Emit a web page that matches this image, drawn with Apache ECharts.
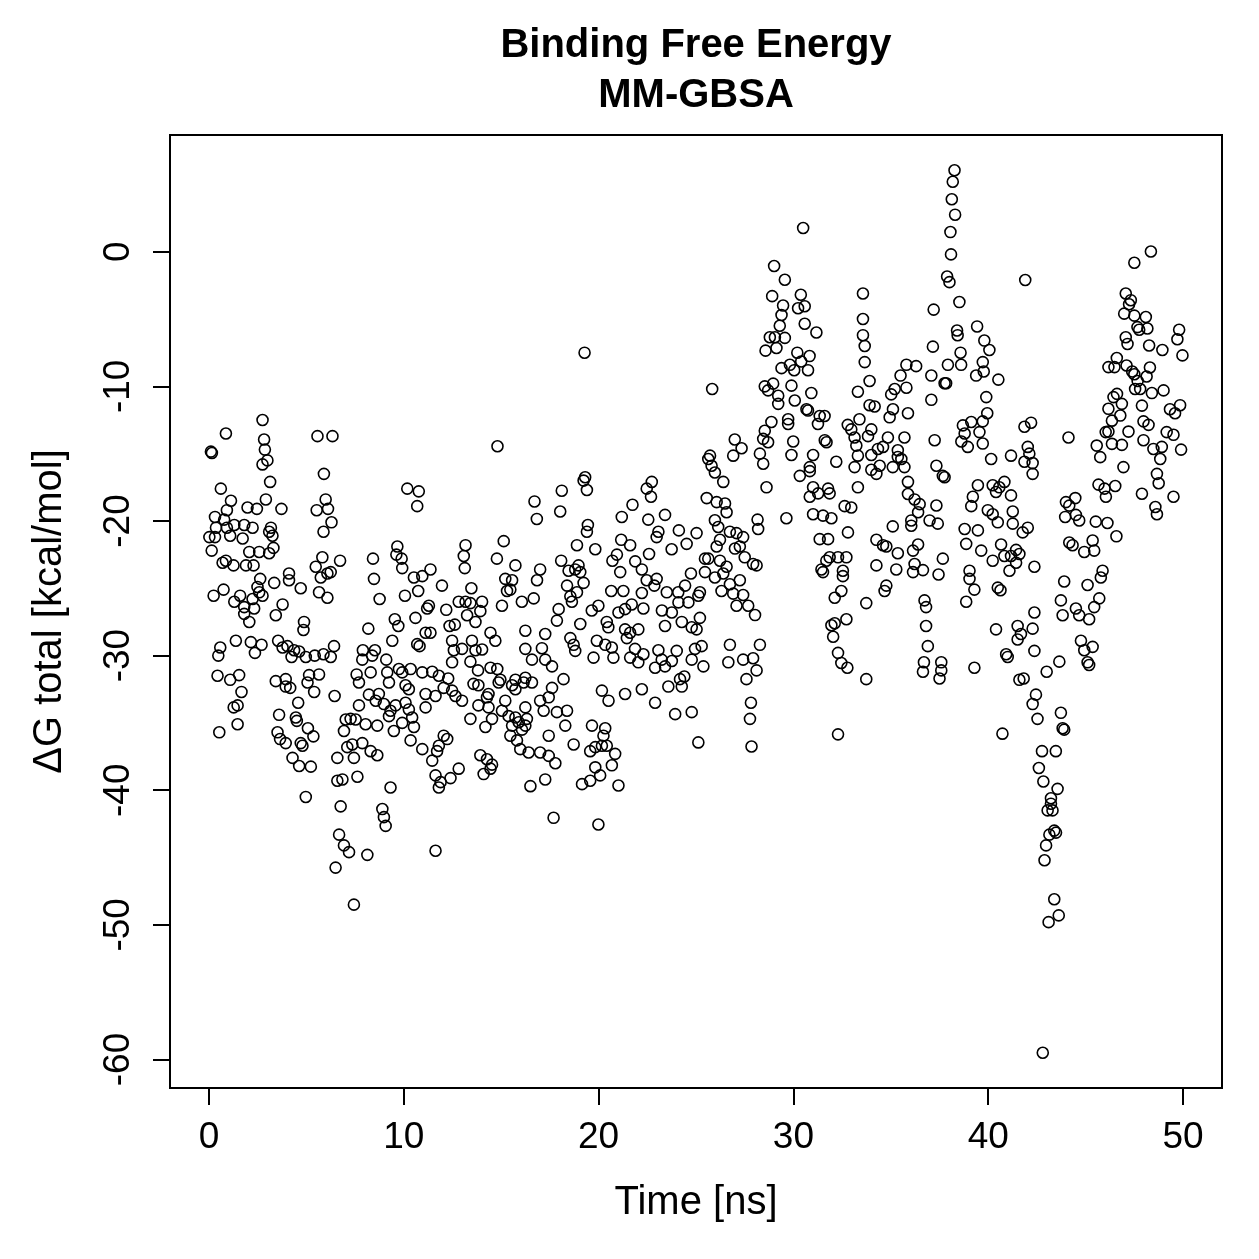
<!DOCTYPE html>
<html><head><meta charset="utf-8">
<script src="https://cdn.jsdelivr.net/npm/echarts@6/dist/echarts.min.js"></script>
<style>html,body{margin:0;padding:0;background:#fff}#c{width:1259px;height:1259px}</style>
</head><body><div id="c"></div>
<script>
const titleLines = ["Binding Free Energy", "MM-GBSA"];
const xName = "Time [ns]";
const yName = "\u0394G total [kcal/mol]";
const xTicks = [0, 10, 20, 30, 40, 50];
const yTicks = [0, -10, -20, -30, -40, -50, -60];

// [time (ns), dG total (kcal/mol)]
const ns0to8 = [
[0.1,-14.85],[0.15,-14.95],[2.75,-12.5],[0.87,-13.5],[2.83,-13.95],[2.87,-14.7],[3.0,-15.5],[2.75,-15.8],
[5.57,-13.7],[6.34,-13.7],[5.9,-16.5],[3.14,-17.1],[0.61,-17.6],[1.13,-18.5],[2.92,-18.4],[1.98,-19.0],
[2.46,-19.1],[3.72,-19.1],[5.99,-18.4],[5.53,-19.2],[6.11,-19.1],[6.29,-20.1],[5.88,-20.8],[0.92,-19.2],
[0.31,-19.7],[0.78,-19.9],[0.36,-20.5],[0.92,-20.5],[1.30,-20.3],[1.81,-20.3],[2.24,-20.5],[0.02,-21.2],
[0.31,-21.2],[1.09,-21.1],[1.73,-21.3],[0.14,-22.2],[3.18,-20.5],[3.09,-20.8],[3.26,-21.1],[3.31,-22.0],
[3.09,-22.4],[2.07,-22.3],[2.58,-22.3],[0.7,-23.1],[0.87,-22.95],[1.26,-23.3],[1.9,-23.3],[2.29,-23.3],
[5.82,-22.7],[5.48,-23.4],[6.73,-22.95],[5.74,-24.2],[6.08,-23.9],[6.25,-23.8],[4.11,-23.9],[4.11,-24.4],
[4.71,-25.0],[3.35,-24.6],[2.63,-24.3],[2.49,-24.9],[2.58,-25.3],[2.24,-25.8],[2.75,-25.55],[0.24,-25.55],
[0.75,-25.1],[1.6,-25.55],[1.3,-26.0],[1.81,-26.4],[2.32,-26.5],[1.81,-26.9],[2.07,-27.5],[3.78,-26.2],
[3.43,-27.0],[5.65,-25.3],[6.08,-25.7],[4.88,-27.5],[4.85,-28.1],[1.38,-28.9],[2.15,-29.0],[2.7,-29.2],
[2.36,-29.8],[0.58,-29.4],[0.48,-30.0],[3.55,-28.9],[3.78,-29.4],[4.03,-29.3],[4.37,-29.6],[4.63,-29.7],
[4.24,-30.1],[4.97,-30.1],[5.43,-30.0],[5.88,-29.9],[6.42,-29.3],[6.25,-30.1],
[0.44,-31.5],[1.09,-31.8],[1.55,-31.45],[1.67,-32.7],[1.27,-33.85],[1.47,-33.7],[1.47,-35.1],[0.53,-35.7],
[3.43,-31.9],[3.94,-31.75],[3.94,-32.3],[4.17,-32.4],[5.14,-31.45],[5.65,-31.4],[5.06,-32.0],[5.4,-32.7],
[6.45,-33.0],[4.58,-33.5],[3.6,-34.4],[4.46,-34.6],[4.51,-34.85],[3.52,-35.7],[3.65,-36.2],[3.94,-36.5],
[4.71,-36.5],[4.8,-36.7],[5.08,-35.4],[5.36,-36.0],[4.29,-37.6],[4.63,-38.2],[5.23,-38.25],[4.97,-40.5],
[7.58,-31.4],[7.7,-32.0],[7.7,-33.7],[7.02,-34.75],[7.27,-34.7],[7.53,-34.75],[6.93,-35.6],[7.1,-36.8],
[7.36,-36.6],[7.44,-37.6],[6.59,-37.6],[6.59,-39.3],[6.85,-39.2],[7.62,-39.0],[6.76,-41.2],[6.68,-43.3],
[6.93,-44.1],[7.19,-44.6],[6.5,-45.75],[7.44,-48.5]
];

const ns8to16 = [
[10.18,-17.6],[10.77,-17.8],[10.69,-18.9],[9.67,-21.9],[9.62,-22.5],[9.89,-22.8],[9.92,-23.5],
[13.17,-21.8],[13.08,-22.6],[13.13,-23.5],[15.13,-21.5],[14.78,-22.8],[15.73,-23.3],
[8.42,-22.8],[8.47,-24.3],[8.76,-25.8],[8.18,-28.0],[10.52,-24.2],[10.95,-24.1],[11.37,-23.6],
[10.74,-25.2],[10.06,-25.55],[11.96,-24.8],[15.21,-24.3],[15.56,-24.4],[15.3,-25.2],[15.47,-25.1],
[16.06,-26.0],[15.04,-26.3],[13.47,-25.0],[12.82,-26.0],[13.17,-26.0],[13.42,-26.1],[14.02,-26.0],
[13.93,-26.7],[13.25,-27.0],[13.68,-27.5],[12.18,-26.6],[12.35,-27.8],[12.62,-27.7],[11.29,-26.3],
[11.2,-26.5],[10.6,-27.2],[9.54,-27.3],[9.72,-27.8],[11.12,-28.3],[11.37,-28.3],[9.41,-28.9],
[10.69,-29.15],[10.81,-29.3],[7.9,-29.6],[8.52,-29.6],[8.38,-30.0],[7.87,-30.3],[9.1,-30.3],
[12.48,-28.9],[12.57,-29.6],[12.99,-29.5],[13.5,-28.9],[13.68,-29.6],[14.02,-29.55],[14.45,-28.3],
[14.7,-28.9],[8.3,-31.25],[9.15,-31.25],[9.75,-31.0],[9.92,-31.25],[10.35,-31.0],[10.95,-31.25],
[11.46,-31.2],[11.8,-31.5],[12.28,-31.7],[12.48,-30.5],[13.42,-30.45],[13.81,-31.1],[14.45,-30.9],
[14.8,-31.0],[14.96,-31.8],[15.73,-31.8],[14.81,-14.45],
[8.21,-32.9],[8.72,-32.85],[9.24,-32.0],[10.09,-32.2],[10.26,-32.5],[11.12,-32.85],[11.63,-33.0],
[12.05,-32.4],[12.48,-32.6],[12.65,-33.0],[12.99,-33.35],[13.58,-32.1],[13.83,-32.2],[14.35,-32.85],
[14.87,-32.0],[15.56,-32.2],[15.73,-32.5],[16.15,-32.0],[8.56,-33.35],[8.98,-33.6],[9.32,-34.1],
[9.58,-33.7],[9.24,-34.5],[10.09,-33.5],[10.26,-34.0],[11.12,-33.85],[10.43,-34.6],[8.04,-35.1],
[8.64,-35.2],[9.49,-35.6],[9.92,-35.0],[10.52,-35.3],[7.87,-36.5],[8.3,-37.1],[8.64,-37.4],
[10.35,-36.3],[10.95,-36.95],[11.46,-37.8],[11.71,-37.1],[11.8,-36.7],[12.05,-35.95],[12.23,-36.2],
[12.82,-38.4],[12.4,-39.1],[11.63,-38.9],[11.89,-39.4],[11.8,-39.8],[13.42,-34.7],[13.83,-33.7],
[14.27,-33.1],[14.35,-33.85],[14.53,-34.7],[14.19,-35.3],[15.04,-34.1],[15.21,-33.35],[15.38,-34.5],
[15.73,-34.6],[15.56,-35.2],[15.9,-34.95],[16.07,-35.5],[15.47,-35.95],[15.81,-36.3],[15.98,-36.95],
[16.32,-34.7],[13.93,-37.4],[14.27,-37.7],[14.53,-38.1],[14.1,-38.8],[14.45,-38.4],[9.32,-39.8],
[8.9,-41.4],[8.98,-42.0],[9.07,-42.65],[8.13,-44.8],[11.63,-44.5]
];

const ns16to25 = [
[19.28,-7.5],[19.31,-16.75],[19.23,-17.0],[19.4,-17.7],[18.11,-17.75],[16.71,-18.55],[16.83,-19.85],
[18.03,-19.3],[22.47,-17.6],[22.73,-17.1],[22.69,-18.2],[21.74,-18.8],[21.19,-19.7],[22.55,-19.9],
[23.41,-19.55],[19.45,-20.3],[19.4,-20.8],[18.89,-21.8],[19.83,-22.1],[18.08,-22.95],[17.0,-23.6],
[16.84,-24.4],[23.07,-20.8],[22.98,-21.2],[24.12,-20.7],[25.03,-20.9],[24.52,-21.7],[23.75,-22.1],
[22.59,-22.45],[21.16,-21.4],[21.62,-21.8],[20.94,-22.5],[20.71,-22.95],[21.88,-23.0],[22.22,-23.6],
[21.11,-23.8],[18.46,-23.7],[18.8,-23.6],[18.97,-23.3],[19.06,-23.8],[19.23,-24.6],[18.38,-24.8],
[18.55,-25.6],[18.89,-25.3],[22.47,-24.4],[22.98,-24.3],[22.86,-24.8],[24.74,-23.9],[24.44,-24.8],
[24.09,-25.3],[23.5,-25.3],[22.22,-25.35],[20.65,-25.2],[21.27,-25.2],
[16.67,-25.75],[18.63,-26.0],[17.95,-26.55],[17.86,-27.4],[17.26,-28.4],[16.24,-28.15],[19.06,-27.65],
[19.65,-26.65],[19.99,-26.3],[21.02,-26.8],[21.36,-26.55],[21.7,-26.2],[22.3,-26.5],[20.42,-27.5],
[20.5,-27.9],[21.36,-28.05],[21.62,-28.3],[22.04,-28.05],[21.45,-28.7],[23.25,-26.65],[23.76,-26.8],
[24.1,-26.05],[24.61,-26.05],[24.27,-27.5],[23.41,-27.8],[24.78,-27.9],[25.03,-28.05],
[16.24,-29.5],[16.58,-30.3],[17.09,-29.45],[17.26,-30.3],[17.61,-30.8],[18.55,-28.7],[18.72,-29.2],
[18.8,-29.65],[19.74,-30.15],[19.91,-28.9],[20.34,-29.2],[20.68,-29.4],[20.76,-30.15],[21.62,-30.15],
[21.87,-29.5],[22.04,-30.5],[22.3,-29.9],[23.07,-29.6],[23.24,-30.3],[22.9,-30.9],[23.41,-30.8],
[23.76,-30.4],[24.01,-29.65],[24.78,-30.3],[24.95,-29.5],[18.2,-31.75],[17.61,-32.4],[16.58,-32.0],
[16.24,-31.65],[17.44,-33.1],[17.0,-33.35],[16.24,-33.85],[17.18,-34.1],[17.86,-34.2],[18.38,-34.1],
[20.17,-32.6],[20.51,-33.35],[21.36,-32.85],[22.22,-32.5],[22.9,-33.5],[23.58,-32.3],[24.27,-32.3],
[24.18,-31.75],[24.4,-31.55],[23.93,-34.35],[24.78,-34.2],[16.24,-35.2],[17.44,-35.95],[18.29,-35.2],
[18.72,-36.6],[19.66,-35.2],[20.34,-35.4],[20.25,-35.95],[20.17,-36.7],[20.42,-36.7],[19.57,-37.1],
[19.83,-36.8],[20.85,-37.3],[20.68,-38.15],[16.41,-37.2],[17.0,-37.2],[17.44,-37.45],[17.78,-38.0],
[19.83,-38.3],[20.08,-38.9],[19.57,-39.3],[19.15,-39.55],[21.02,-39.65],[17.26,-39.2],[16.5,-39.7],
[17.69,-42.05],[19.99,-42.55]
];

const ns25to34 = [
[30.5,1.76],[29.01,-1.06],[29.56,-2.08],[28.91,-3.3],[29.47,-4.0],[29.39,-4.7],[29.3,-5.5],[30.38,-3.2],
[30.24,-4.2],[30.58,-4.05],[30.58,-5.35],[31.18,-6.0],[28.79,-6.35],[29.05,-6.35],[29.56,-6.4],
[28.57,-7.35],[29.13,-7.15],[30.2,-7.5],[30.83,-7.75],[30.4,-8.15],[29.82,-8.4],[29.39,-8.65],
[30.04,-8.8],[30.75,-8.8],[25.83,-10.2],[28.53,-10.0],[28.96,-9.8],[28.7,-10.3],[29.22,-10.7],
[29.22,-11.3],[29.9,-9.95],[30.07,-11.05],[30.92,-10.5],[30.67,-11.7],[30.75,-11.8],[31.35,-12.2],
[31.6,-12.2],[31.26,-12.8],[33.57,-3.1],[33.57,-5.0],[33.57,-6.2],[33.66,-7.0],[33.66,-8.2],
[33.91,-9.6],[33.31,-10.4],[33.91,-11.4],[28.87,-12.65],[29.73,-12.45],[29.73,-12.8],[28.53,-13.3],
[28.45,-13.9],[28.7,-14.15],[28.28,-15.0],[28.45,-15.75],[29.99,-14.1],[29.9,-15.1],[31.61,-14.0],
[31.7,-14.15],[31.01,-15.1],[30.84,-16.0],[30.33,-16.65],[32.2,-15.6],[26.99,-13.95],[27.34,-14.6],
[26.91,-15.15],[25.72,-15.15],[25.63,-15.4],[25.8,-15.9],[25.97,-16.4],[32.79,-12.86],[32.97,-13.2],
[33.39,-12.45],[33.14,-13.8],[33.23,-14.4],[33.31,-15.15],[33.14,-16.0],
[26.4,-17.1],[28.62,-17.5],[25.55,-18.3],[26.06,-18.6],[26.49,-18.7],[26.57,-19.35],[25.97,-19.95],
[26.14,-20.45],[28.16,-19.9],[28.19,-20.6],[29.64,-19.8],[26.74,-20.8],[27.08,-20.9],[27.42,-21.2],
[27.0,-22.05],[27.25,-21.9],[26.23,-21.4],[26.06,-21.9],[27.5,-22.7],[27.93,-23.2],[28.11,-23.3],
[25.46,-22.8],[25.63,-22.8],[26.23,-22.95],[25.46,-23.8],[25.97,-24.2],[26.57,-23.4],[26.4,-23.9],
[25.2,-25.3],[25.12,-25.55],[26.74,-24.7],[27.25,-24.4],[26.31,-25.2],[26.91,-25.4],[27.42,-25.5],
[27.08,-26.3],[27.68,-26.3],[28.03,-26.99],[25.2,-27.2],[25.29,-29.3],[25.38,-30.8],[26.74,-29.2],
[26.66,-30.5],[27.42,-30.3],[27.93,-30.2],[28.28,-29.2],[28.11,-31.1],[27.59,-31.75],[27.82,-33.5],
[27.77,-34.7],[25.12,-36.45],[27.85,-36.75],
[30.84,-16.3],[31.01,-17.5],[30.84,-18.2],[31.27,-17.95],[31.78,-17.6],[31.86,-17.95],[33.31,-17.5],
[32.63,-18.9],[32.97,-19.0],[31.01,-19.5],[31.52,-19.6],[31.95,-19.8],[32.8,-20.85],[31.35,-21.35],
[31.78,-21.35],[31.86,-22.7],[31.69,-22.95],[31.44,-23.6],[31.52,-23.8],[32.29,-22.7],[32.72,-22.7],
[32.54,-23.7],[32.54,-24.1],[32.46,-25.2],[32.12,-25.7],[33.74,-26.1],[32.72,-27.3],[32.12,-27.6],
[31.95,-27.75],[32.04,-28.6],[32.29,-29.8],[32.46,-30.55],[32.77,-30.9],[32.29,-35.85],[33.74,-31.75]
];

const ns34to43 = [
[38.27,6.05],[38.18,5.2],[38.13,3.9],[38.3,2.75],[38.06,1.46],[38.09,-0.2],[37.89,-1.84],[38.01,-2.26],
[41.9,-2.1],[38.52,-3.74],[37.2,-4.3],[38.4,-5.85],[38.43,-6.2],[39.43,-5.55],[39.8,-6.6],[40.06,-7.3],
[37.16,-7.05],[38.58,-7.5],[37.93,-8.4],[38.61,-8.4],[39.72,-8.2],[39.77,-8.9],[39.38,-9.2],[40.52,-9.5],
[37.08,-9.2],[37.84,-9.77],[37.76,-9.77],[37.08,-11.0],[39.9,-10.8],[39.95,-12.0],[39.72,-12.6],
[39.13,-12.65],[38.7,-12.9],[35.8,-8.4],[36.3,-8.5],[35.5,-9.2],[35.8,-10.1],[35.2,-10.2],[35.02,-10.6],
[34.17,-11.5],[35.11,-11.7],[34.94,-12.3],[35.88,-12.0],[41.86,-13.0],[42.2,-12.7],
[34.0,-13.2],[33.83,-13.7],[34.85,-13.8],[35.7,-13.8],[34.34,-14.65],[34.6,-14.5],[34.0,-15.1],
[35.36,-14.75],[35.36,-15.25],[35.54,-15.4],[35.1,-16.0],[35.7,-16.0],[34.0,-16.2],[34.43,-15.9],
[34.26,-16.5],[37.25,-14.0],[37.34,-15.9],[37.67,-16.65],[37.76,-16.75],[35.88,-17.1],[35.88,-18.0],
[36.22,-18.4],[36.48,-18.75],[36.4,-19.35],[37.34,-18.85],[36.05,-19.96],[36.05,-20.35],[36.99,-19.96],
[37.41,-20.2],[35.1,-20.4],[34.26,-21.4],[34.6,-21.8],[34.77,-21.9],[35.36,-22.4],[36.4,-21.75],
[36.14,-22.2],[34.26,-23.3],[35.28,-23.6],[36.22,-23.2],[36.14,-23.8],[36.65,-23.65],[37.67,-22.8],
[37.45,-23.98],[34.77,-24.8],[34.68,-25.2],[36.73,-25.9],[36.81,-26.4],[36.81,-27.8],[36.9,-29.3],
[36.7,-30.5],[36.65,-31.2],[37.59,-30.5],[37.59,-31.1],[37.5,-31.7],
[38.79,-13.5],[39.55,-13.4],[39.72,-14.25],[38.62,-14.1],[38.95,-14.5],[40.15,-15.4],[41.17,-15.15],
[42.03,-14.5],[42.11,-15.0],[41.86,-15.6],[42.28,-15.7],[42.28,-16.5],[39.47,-17.35],[40.23,-17.35],
[40.57,-17.5],[40.4,-17.85],[40.83,-17.1],[41.17,-18.1],[39.21,-18.2],[39.13,-18.9],[39.98,-19.2],
[40.23,-19.5],[40.49,-20.1],[41.26,-19.3],[41.26,-20.2],[41.77,-20.85],[42.03,-20.5],[38.79,-20.6],
[39.47,-20.7],[38.87,-21.7],[39.64,-22.2],[40.23,-22.95],[40.66,-21.75],[40.83,-22.6],[41.17,-22.6],
[41.43,-22.15],[41.6,-22.45],[41.43,-23.1],[41.09,-23.7],[42.37,-23.4],[39.04,-23.7],[39.04,-24.3],
[39.29,-25.1],[38.87,-26.0],[40.49,-24.95],[40.63,-25.15],[42.37,-26.8],[40.4,-28.05],[41.51,-27.8],
[41.68,-28.4],[42.28,-28.0],[41.51,-28.8],[40.92,-29.9],[41.0,-30.1],[42.37,-29.65],[39.29,-30.9],
[41.6,-31.8],[41.82,-31.7],[42.45,-32.9],[40.73,-35.8]
];

const ns43to50 = [
[48.35,0.02],[47.5,-0.82],[47.06,-3.1],[47.32,-3.6],[47.23,-3.9],[46.98,-4.6],[47.5,-4.75],[48.09,-4.85],
[47.66,-5.6],[47.75,-5.8],[48.17,-5.7],[49.8,-5.8],[49.71,-6.5],[49.97,-7.7],[47.06,-6.35],[47.15,-6.85],
[48.26,-6.97],[48.94,-7.3],[46.6,-7.9],[46.17,-8.57],[46.48,-8.57],[47.1,-8.45],[47.39,-8.9],[47.5,-9.1],
[47.67,-9.6],[48.3,-8.6],[48.13,-9.27],[47.54,-10.2],[47.8,-10.2],[48.4,-10.5],[49.0,-10.3],[47.89,-11.43],
[46.61,-10.56],[46.43,-10.8],[46.86,-11.3],[46.17,-11.67],[46.78,-12.17],[46.35,-12.55],[46.17,-13.36],
[46.03,-13.4],[45.57,-14.4],[45.75,-15.26],[47.2,-13.36],[46.35,-14.27],[46.86,-14.35],[47.97,-12.6],
[48.23,-12.86],[47.97,-14.0],[48.48,-14.65],[48.83,-15.4],[48.91,-14.5],[49.16,-13.4],[49.33,-11.7],
[49.59,-12.0],[49.85,-11.4],[49.51,-13.6],[49.9,-14.7],[46.94,-16.0],[45.66,-17.3],[45.97,-17.6],
[46.52,-17.4],[46.04,-18.2],[47.89,-17.98],[48.66,-16.5],[48.75,-17.2],[48.58,-18.96],[48.66,-19.5],
[49.51,-18.2],[44.12,-13.8],[43.99,-18.6],[44.16,-18.86],[44.47,-18.3],[43.95,-19.7],[44.5,-19.55],
[44.67,-19.96],[45.52,-20.05],[46.12,-20.15],[46.58,-21.14],[44.16,-21.6],[44.33,-21.8],[44.93,-22.3],
[45.36,-21.45],[45.44,-22.2],[45.87,-23.7],[45.78,-24.2],[43.9,-24.5],[45.1,-24.76],[43.73,-25.9],
[45.7,-25.75],[45.44,-26.4],[44.5,-26.5],[44.67,-27.0],[45.18,-27.3],[43.82,-27.0],
[44.76,-28.9],[44.93,-29.6],[45.36,-29.35],[45.1,-30.5],[45.18,-30.7],[43.65,-30.45],[43.0,-31.2],
[42.28,-33.6],[42.53,-34.7],[43.73,-34.25],[43.82,-35.4],[43.9,-35.5],[42.76,-37.1],[43.47,-37.1],
[42.6,-38.35],[42.83,-39.35],[43.56,-39.9],[43.22,-40.6],[43.05,-41.5],[43.3,-41.5],[43.22,-41.0],
[43.39,-43.0],[43.14,-43.3],[43.48,-43.15],[42.97,-44.1],[42.89,-45.2],[43.39,-48.1],[43.62,-49.3],
[43.1,-49.8],[42.8,-59.5]
];

const points = [].concat(ns0to8, ns8to16, ns16to25, ns25to34, ns34to43, ns43to50);

const FONT = '"Liberation Sans", Arial, Helvetica, sans-serif';
const chart = echarts.init(document.getElementById('c'), null, {renderer: 'canvas'});
chart.setOption({
  animation: false,
  backgroundColor: '#fff',
  graphic: [
    {type: 'text', x: 696, y: 46, style: {text: titleLines[0], font: 'bold 40px ' + FONT, fill: '#000', align: 'center', verticalAlign: 'middle', textAlign: 'center', textVerticalAlign: 'middle'}},
    {type: 'text', x: 696, y: 96, style: {text: titleLines[1], font: 'bold 40px ' + FONT, fill: '#000', align: 'center', verticalAlign: 'middle', textAlign: 'center', textVerticalAlign: 'middle'}}
  ],
  grid: {left: 170, top: 135, width: 1052, height: 953, show: true, borderColor: '#000', borderWidth: 2, backgroundColor: 'transparent', containLabel: false},
  xAxis: {
    type: 'value', min: -2, max: 52, position: 'bottom',
    splitLine: {show: false},
    axisLine: {show: false, onZero: false},
    axisTick: {show: true, length: 17, lineStyle: {color: '#000', width: 2}, customValues: xTicks},
    axisLabel: {customValues: xTicks, fontSize: 37, color: '#000', margin: 31, fontFamily: FONT},
    name: xName, nameLocation: 'middle', nameGap: 95,
    nameTextStyle: {fontSize: 40, color: '#000', fontFamily: FONT}
  },
  yAxis: {
    type: 'value', min: -62.12, max: 8.67, position: 'left',
    splitLine: {show: false},
    axisLine: {show: false, onZero: false},
    axisTick: {show: true, length: 17, lineStyle: {color: '#000', width: 2}, customValues: yTicks},
    axisLabel: {customValues: yTicks, fontSize: 37, color: '#000', margin: 33, rotate: 90, fontFamily: FONT},
    name: yName, nameLocation: 'middle', nameGap: 100, nameRotate: 90,
    nameTextStyle: {fontSize: 40, color: '#000', fontFamily: FONT}
  },
  series: [{
    type: 'scatter',
    data: points,
    symbol: 'circle',
    symbolSize: 11,
    itemStyle: {color: 'rgba(0,0,0,0)', borderColor: '#000', borderWidth: 1.6, opacity: 1},
    emphasis: {disabled: true},
    silent: true
  }]
});
</script>
</body></html>
